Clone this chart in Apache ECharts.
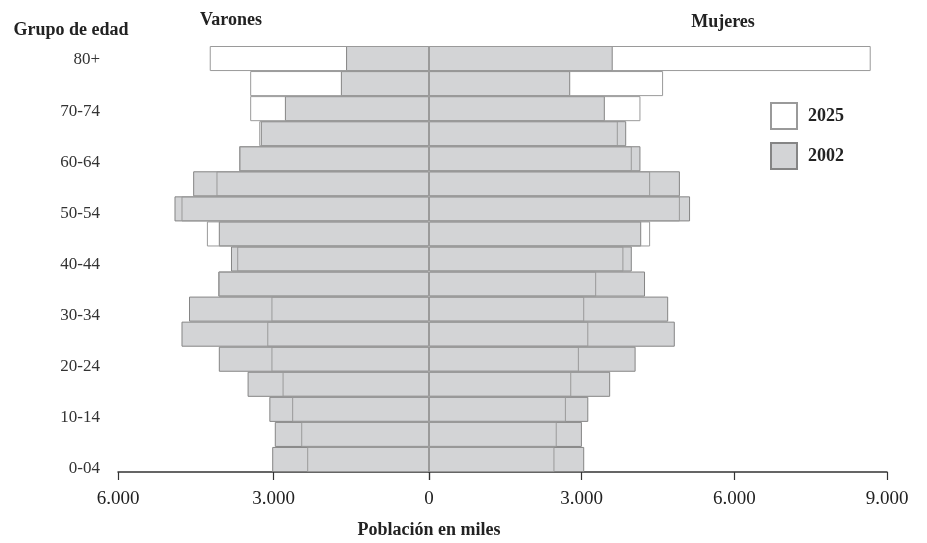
<!DOCTYPE html>
<html>
<head>
<meta charset="utf-8">
<script src="https://cdn.jsdelivr.net/npm/echarts@6/dist/echarts.min.js"></script>
<style>html,body{margin:0;padding:0;background:#fff}#c{width:927px;height:543px}</style>
</head>
<body>
<div id="c"></div>
<script>
const ageGroups = ['0-04','5-09','10-14','15-19','20-24','25-29','30-34','35-39','40-44','45-49','50-54','55-59','60-64','65-69','70-74','75-79','80+'];
const men2002 = [3025, 2975, 3080, 3500, 4055, 4775, 4630, 4065, 3820, 4055, 4910, 4550, 3660, 3245, 2780, 1700, 1600];
const men2025 = [2350, 2465, 2640, 2825, 3040, 3120, 3040, 4060, 3700, 4285, 4775, 4100, 3660, 3275, 3450, 3450, 4230];
const women2002 = [3050, 3005, 3130, 3560, 4060, 4830, 4700, 4245, 3985, 4170, 5130, 4930, 4155, 3875, 3455, 2775, 3610];
const women2025 = [2465, 2510, 2690, 2795, 2945, 3130, 3050, 3285, 3820, 4345, 4930, 4345, 3985, 3710, 4155, 4600, 8680];
const leftTicks = [0, 3000, 6000];
const rightTicks = [0, 3000, 6000, 9000];

const FONT = '"Liberation Serif", "DejaVu Serif", serif';
const fmt = v => v === 0 ? '0' : String(v).replace(/\B(?=(\d{3})+(?!\d))/g, '.');

const grayStyle = { color: '#d3d4d6', borderColor: '#858585', borderWidth: 1 };
const whiteStyle = { color: 'rgba(255,255,255,0)', borderColor: '#9a9a9a', borderWidth: 1 };

const chart = echarts.init(document.getElementById('c'), null, { renderer: 'canvas' });
const xCommon = {
  type: 'value', interval: 3000, splitLine: { show: false },
  axisLine: { show: true, lineStyle: { color: '#333', width: 1.5 } },
  axisTick: { show: true, length: 8, lineStyle: { color: '#333', width: 1.2 } },
  axisLabel: { fontFamily: FONT, fontSize: 19, color: '#222', margin: 18 }
};
const yHidden = { type: 'category', data: ageGroups, axisLine: { show: false }, axisTick: { show: false }, axisLabel: { show: false } };

chart.setOption({
  animation: false,
  backgroundColor: '#fff',
  grid: [
    { left: 118, width: 311, top: 46, height: 426 },
    { left: 429, width: 458, top: 46, height: 426 },
    { left: 106, width: 1, top: 47.2, height: 434.6 }
  ],
  xAxis: [
    Object.assign({}, xCommon, { gridIndex: 0, min: 0, max: 6000, inverse: true,
      axisLabel: Object.assign({}, xCommon.axisLabel, { formatter: v => leftTicks.includes(v) ? fmt(v) : '' }) }),
    Object.assign({}, xCommon, { gridIndex: 1, min: 0, max: 9000,
      axisLabel: Object.assign({}, xCommon.axisLabel, { formatter: v => (v === 0 || !rightTicks.includes(v)) ? '' : fmt(v) }) }),
    { gridIndex: 2, type: 'value', show: false }
  ],
  yAxis: [
    Object.assign({ gridIndex: 0 }, yHidden),
    Object.assign({ gridIndex: 1 }, yHidden),
    { gridIndex: 2, type: 'category', data: ageGroups, axisLine: { show: false }, axisTick: { show: false },
      axisLabel: { interval: 1, fontFamily: FONT, fontSize: 17, color: '#333', margin: 6 } }
  ],
  legend: {
    orient: 'vertical', left: 765, top: 97, itemWidth: 26, itemHeight: 26, itemGap: 12,
    icon: 'rect', data: ['2025', '2002'],
    textStyle: { fontFamily: FONT, fontSize: 18, fontWeight: 'bold', color: '#222', padding: [0, 0, 0, 6] }
  },
  graphic: [
    { type: 'text', x: 71, y: 30, style: { text: 'Grupo de edad', font: 'bold 18px ' + FONT, fill: '#222', textAlign: 'center', textVerticalAlign: 'middle' } },
    { type: 'text', x: 231, y: 20, style: { text: 'Varones', font: 'bold 18px ' + FONT, fill: '#222', textAlign: 'center', textVerticalAlign: 'middle' } },
    { type: 'text', x: 723, y: 22, style: { text: 'Mujeres', font: 'bold 18px ' + FONT, fill: '#222', textAlign: 'center', textVerticalAlign: 'middle' } },
    { type: 'text', x: 429, y: 530, style: { text: 'Población en miles', font: 'bold 18px ' + FONT, fill: '#222', textAlign: 'center', textVerticalAlign: 'middle' } }
  ],
  series: [
    { name: '2002', type: 'bar', xAxisIndex: 0, yAxisIndex: 0, data: men2002, itemStyle: grayStyle, barGap: '-100%', barCategoryGap: '0%' },
    { name: '2025', type: 'bar', xAxisIndex: 0, yAxisIndex: 0, data: men2025, itemStyle: whiteStyle, barGap: '-100%', barCategoryGap: '0%' },
    { name: '2002', type: 'bar', xAxisIndex: 1, yAxisIndex: 1, data: women2002, itemStyle: grayStyle, barGap: '-100%', barCategoryGap: '0%' },
    { name: '2025', type: 'bar', xAxisIndex: 1, yAxisIndex: 1, data: women2025, itemStyle: whiteStyle, barGap: '-100%', barCategoryGap: '0%' }
  ]
});
</script>
</body>
</html>
